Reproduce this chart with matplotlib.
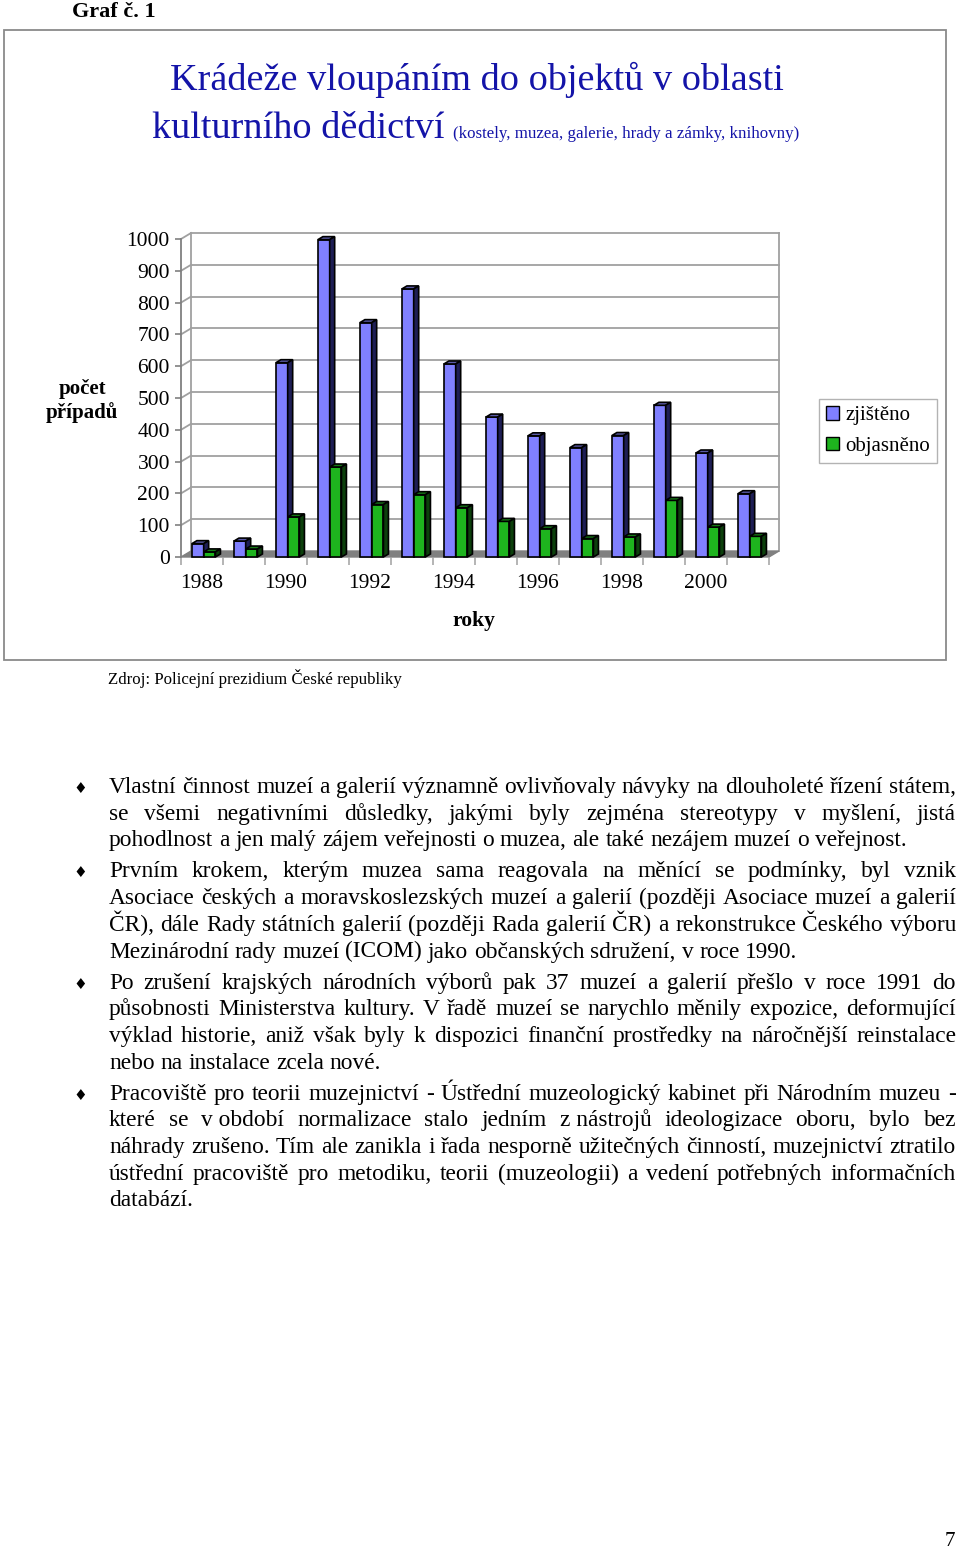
import numpy as np
import matplotlib
import matplotlib.pyplot as plt
from matplotlib.patches import Polygon, Rectangle, Patch

matplotlib.use('Agg')
plt.rcParams['font.family'] = ['Liberation Serif', 'DejaVu Sans']

# data
years = [str(y) for y in range(1988, 2002)]
zjisteno = [42, 50, 611, 998, 737, 843, 607, 440, 381, 344, 382, 477, 327, 199]
objasneno = [16, 25, 126, 283, 165, 196, 155, 112, 89, 58, 63, 178, 94, 65]
series_names = ['zjištěno', 'objasněno']
y_ticks = list(range(0, 1001, 100))

paragraphs = [
    ["Vlastní činnost muzeí a galerií významně ovlivňovaly návyky na dlouholeté řízení státem,",
     "se všemi negativními důsledky, jakými byly zejména stereotypy v myšlení, jistá",
     "pohodlnost a jen malý zájem veřejnosti o muzea, ale také nezájem muzeí o veřejnost."],
    ["Prvním krokem, kterým muzea sama reagovala na měnící se podmínky, byl vznik",
     "Asociace českých a moravskoslezských muzeí a galerií (později Asociace muzeí a galerií",
     "ČR), dále Rady státních galerií (později Rada galerií ČR) a rekonstrukce Českého výboru",
     "Mezinárodní rady muzeí (ICOM) jako občanských sdružení, v roce 1990."],
    ["Po zrušení krajských národních výborů pak 37 muzeí a galerií přešlo v roce 1991 do",
     "působnosti Ministerstva kultury. V řadě muzeí se narychlo měnily expozice, deformující",
     "výklad historie, aniž však byly k dispozici finanční prostředky na náročnější reinstalace",
     "nebo na instalace zcela nové."],
    ["Pracoviště pro teorii muzejnictví - Ústřední muzeologický kabinet při Národním muzeu -",
     "které se v\u00a0období normalizace stalo jedním z\u00a0nástrojů ideologizace oboru, bylo bez",
     "náhrady zrušeno. Tím ale zanikla i řada nesporně užitečných činností, muzejnictví ztratilo",
     "ústřední pracoviště pro metodiku, teorii (muzeologii) a vedení potřebných informačních",
     "databází."],
]

W_PX, H_PX = 960, 1550


def fx(px):
    return px / W_PX


def fy(py):
    return 1 - py / H_PX


fig = plt.figure(figsize=(9.6, 15.5), dpi=100)
renderer = fig.canvas.get_renderer()

# frame around the chart
fig.patches.append(Rectangle((fx(4), fy(660)), fx(942), 630 / H_PX, transform=fig.transFigure,
                             fill=False, edgecolor='#8a8a8a', lw=1.3))

fig.text(fx(72), fy(17), 'Graf č. 1', fontsize=16, fontweight='bold', va='baseline')

title_col = '#1414a8'
fig.text(fx(477), fy(90), 'Krádeže vloupáním do objektů v oblasti', fontsize=27.5,
         color=title_col, ha='center', va='baseline')
fig.text(fx(152), fy(138), 'kulturního dědictví', fontsize=27.5, color=title_col, va='baseline')
fig.text(fx(453), fy(138), '(kostely, muzea, galerie, hrady a zámky, knihovny)', fontsize=12.2,
         color=title_col, va='baseline')

# ---- pseudo 3D column chart ----
ax = fig.add_axes([fx(181), fy(557), 588 / W_PX, 318 / H_PX])
ax.set_xlim(-0.5, 13.5)
ax.set_ylim(0, 1000)
for s in ['top', 'right', 'bottom']:
    ax.spines[s].set_visible(False)
ax.spines['left'].set_color('#808080')
ax.spines['left'].set_linewidth(1.3)
ax.patch.set_visible(False)

px_x = 42.0            # pixels per category
px_y = 318 / 1000.0    # pixels per unit
DX, DY = 10 / px_x, 6 / px_y      # wall depth
BX, BY = 5 / px_x, 3 / px_y       # bar depth
grid_col = '#a0a0a0'

x = np.arange(len(years))
xl, xr = -0.5, len(years) - 0.5

# floor
ax.add_patch(Polygon([(xl, 0), (xr, 0), (xr + DX, DY), (xl + DX, DY)], closed=True,
                     facecolor='#808080', edgecolor='#808080', lw=1, clip_on=False, zorder=1))
# back wall gridlines and side wall diagonals
for v in y_ticks[1:]:
    ax.plot([xl + DX, xr + DX], [v + DY, v + DY], color=grid_col, lw=1.3, clip_on=False, zorder=0.5)
    ax.plot([xl, xl + DX], [v, v + DY], color=grid_col, lw=1.3, clip_on=False, zorder=0.5)
ax.plot([xl + DX, xl + DX], [DY, 1000 + DY], color=grid_col, lw=1.3, clip_on=False, zorder=0.5)
ax.plot([xr + DX, xr + DX], [DY, 1000 + DY], color=grid_col, lw=1.3, clip_on=False, zorder=0.5)

W = 0.28
styles = [
    (zjisteno, -0.10, '#8080ff', '#5a5aa6', '#1e1e55', 3),
    (objasneno, 0.18, '#1eb41e', '#167a16', '#0c400c', 4),
]
for vals, off, front, top, side, z in styles:
    ax.bar(x + off, vals, width=W, color=front, edgecolor='black', lw=1.2, zorder=z, clip_on=False)
    for xi, v in zip(x, vals):
        x0 = xi + off - W / 2
        ax.add_patch(Polygon([(x0, v), (x0 + W, v), (x0 + W + BX, v + BY), (x0 + BX, v + BY)],
                             closed=True, facecolor=top, edgecolor='black', lw=1.2,
                             zorder=z, clip_on=False))
        ax.add_patch(Polygon([(x0 + W, 0), (x0 + W, v), (x0 + W + BX, v + BY), (x0 + W + BX, BY)],
                             closed=True, facecolor=side, edgecolor='black', lw=1.2,
                             zorder=z, clip_on=False))

ax.set_yticks(y_ticks)
ax.set_yticklabels([str(v) for v in y_ticks], fontsize=15.5)
ax.tick_params(axis='y', direction='out', length=4, width=1.2, color='#808080', pad=4)
ax.set_xticks(x[::2])
ax.set_xticklabels(years[::2], fontsize=15.5)
ax.set_xticks(np.arange(xl, xr + 0.01, 1), minor=True)
ax.tick_params(axis='x', which='major', length=0, pad=12)
ax.tick_params(axis='x', which='minor', length=6, width=1.1, color='#a0a0a0', direction='out')

fig.text(fx(82), fy(401), 'počet\npřípadů', fontsize=15, fontweight='bold', ha='center',
         va='center', linespacing=1.2)
fig.text(fx(474), fy(621), 'roky', fontsize=15.5, fontweight='bold', ha='center', va='center')

handles = [Patch(facecolor=styles[0][2], edgecolor='black'),
           Patch(facecolor=styles[1][2], edgecolor='black')]
fig.legend(handles, series_names, loc='upper left', bbox_to_anchor=(fx(819), fy(399)),
           frameon=True, fancybox=False, edgecolor='#a0a0a0', fontsize=15,
           handlelength=0.6, handleheight=0.6, handletextpad=0.3, borderpad=0.35,
           labelspacing=0.55, borderaxespad=0)

fig.text(fx(108), fy(684), 'Zdroj: Policejní prezidium České republiky', fontsize=12.2,
         va='baseline')

# ---- justified body text ----
fs = 16.8
left, right = 109, 956
space_w = fs * 100 / 72 * 0.25
y = 793
for para in paragraphs:
    fig.text(fx(80), fy(y), '\u2666', fontsize=11, ha='center', va='baseline',
             family=['DejaVu Sans'])
    for li, line in enumerate(para):
        words = line.split(' ')
        texts = [fig.text(0, 0, w, fontsize=fs, va='baseline') for w in words]
        widths = [t.get_window_extent(renderer).width for t in texts]
        last = li == len(para) - 1
        gap = space_w if (last or len(words) == 1) else (right - left - sum(widths)) / (len(words) - 1)
        xp = left
        for t, w in zip(texts, widths):
            t.set_position((fx(xp), fy(y)))
            xp += w + gap
        y += 26.7
    y += 4.3

fig.text(fx(955), fy(1541), '7', fontsize=15, ha='right', va='center')

fig.savefig('out.png', dpi=100)
